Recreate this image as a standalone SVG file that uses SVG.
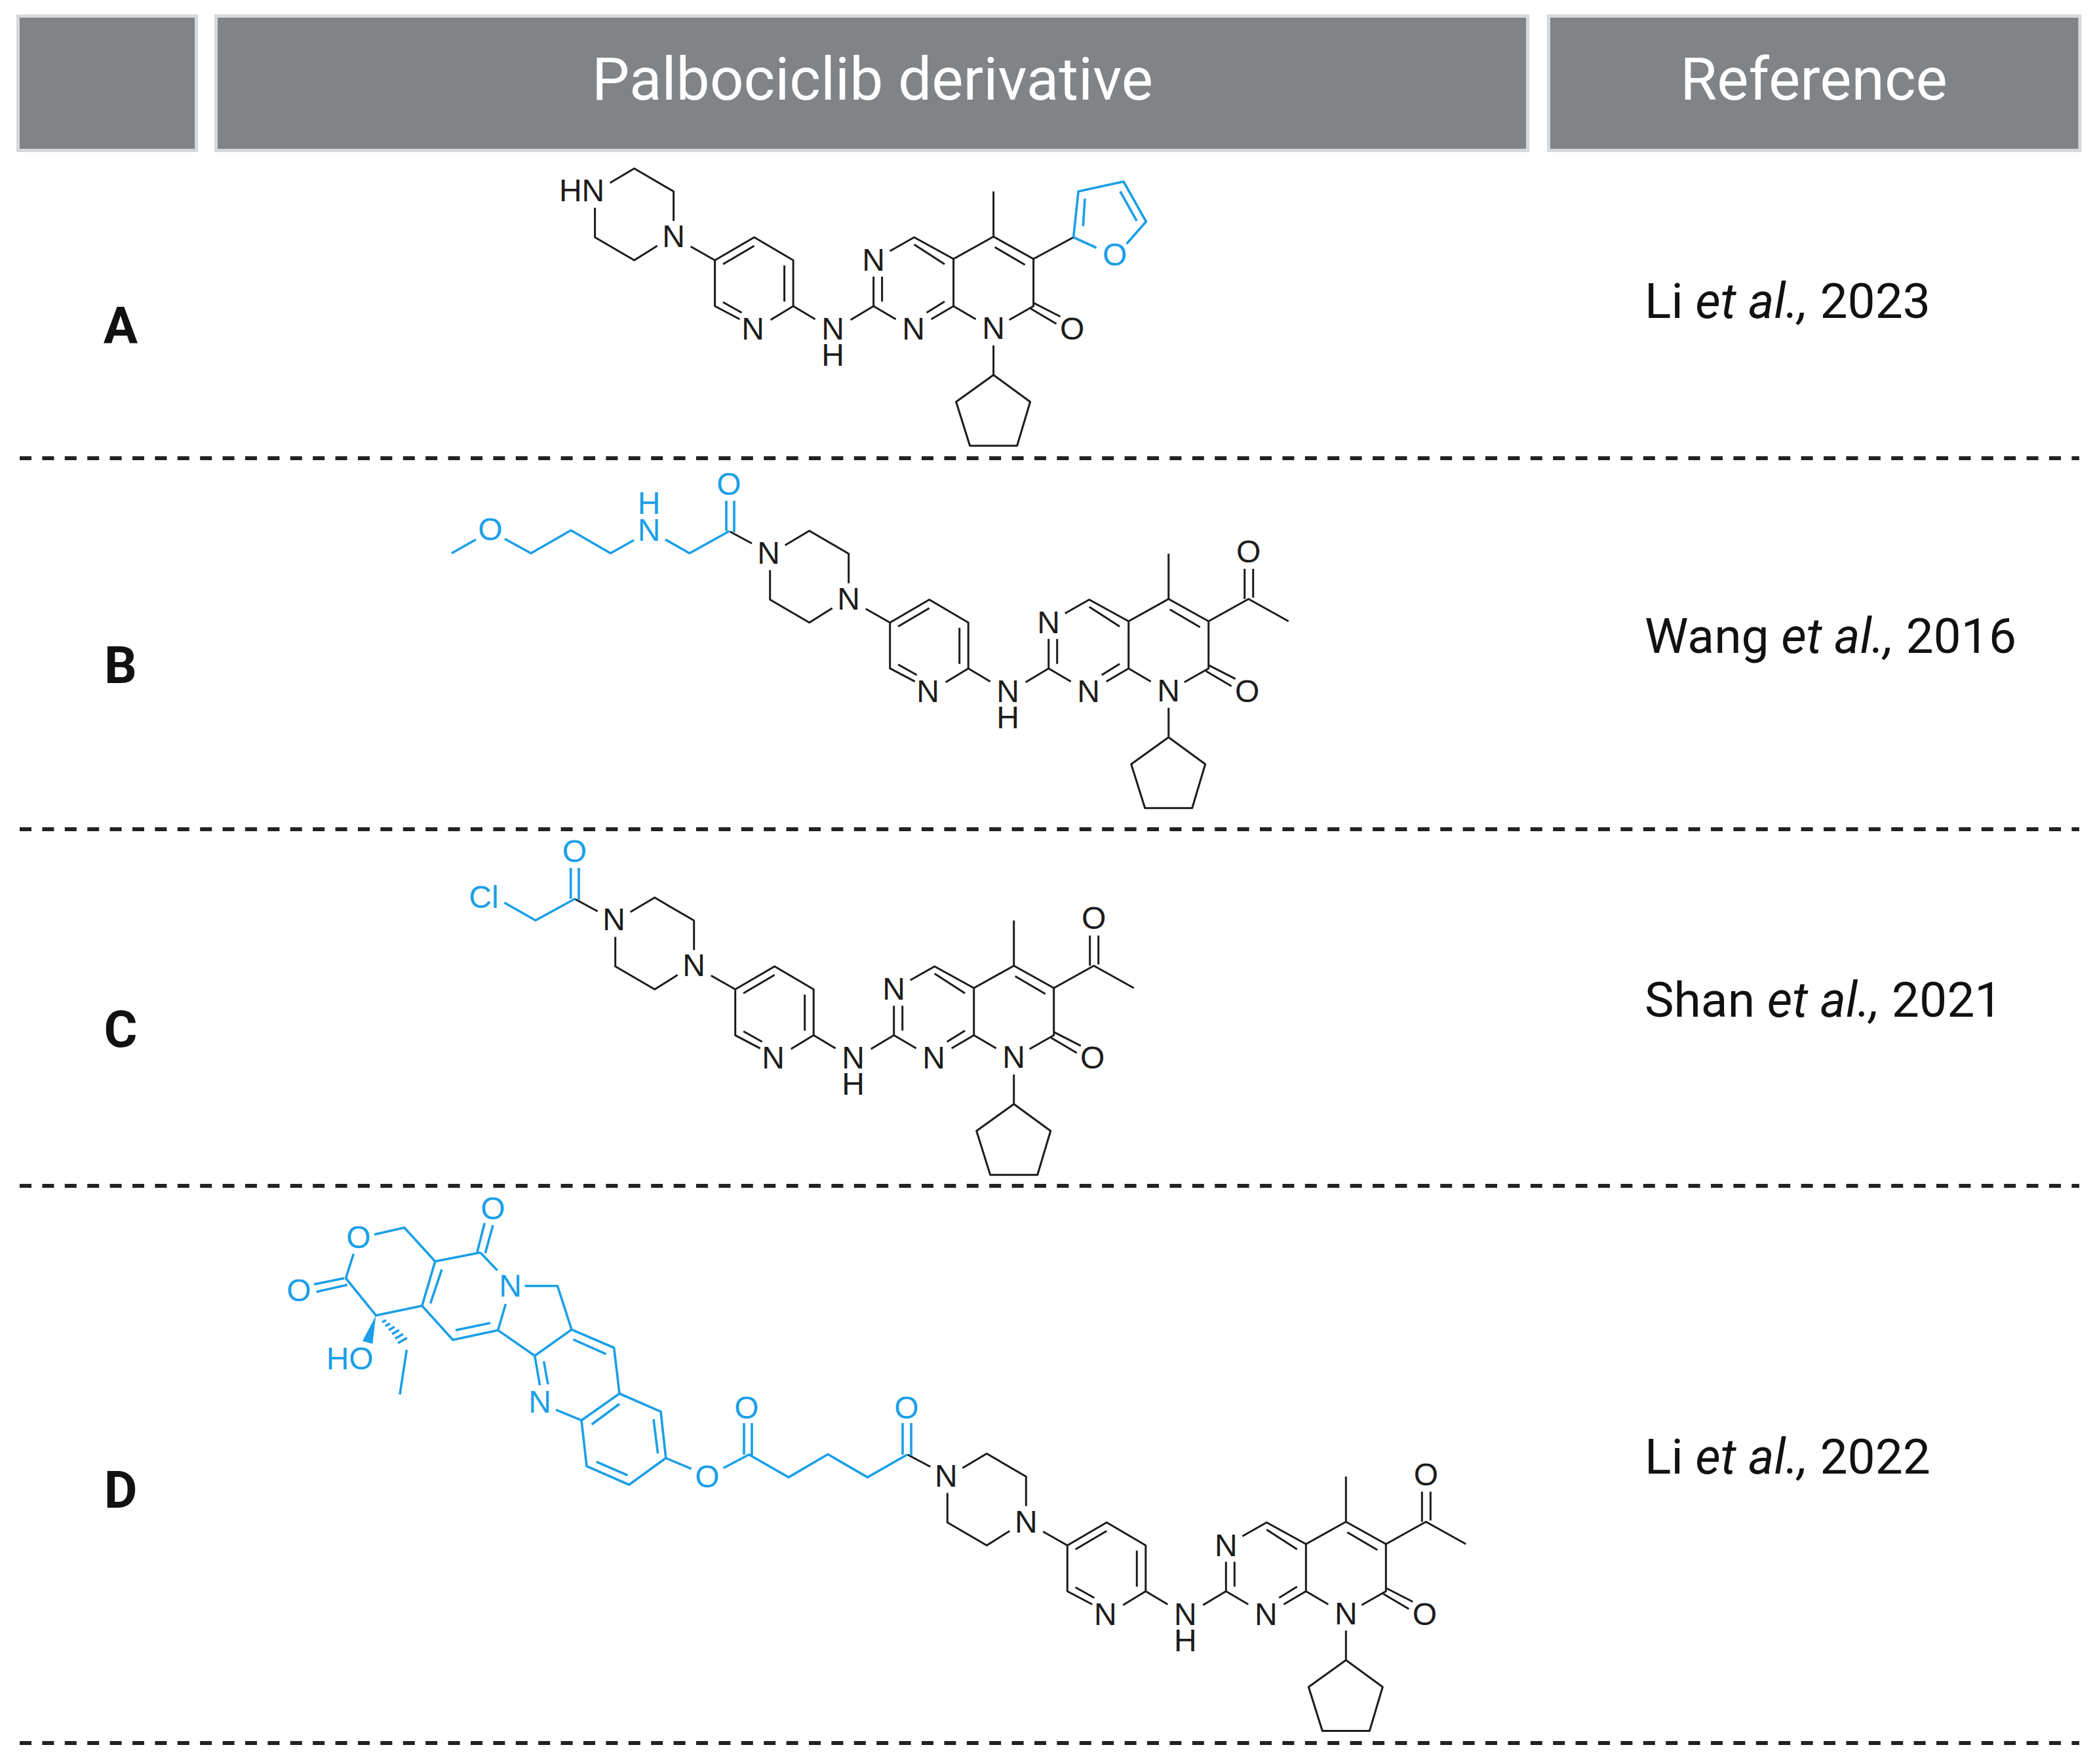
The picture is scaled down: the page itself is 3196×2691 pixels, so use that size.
<svg xmlns="http://www.w3.org/2000/svg" width="3196" height="2691" viewBox="0 0 3196 2691">
<style>
text{font-family:"Liberation Sans",Arial,sans-serif}
.b{fill:none;stroke:#1c1c1c;stroke-width:3;stroke-linejoin:round;stroke-linecap:butt}
.c{fill:none;stroke:#1a9fe8;stroke-width:3.6;stroke-linejoin:round;stroke-linecap:butt}
.a{font-size:48px;fill:#1c1c1c;text-anchor:middle}
.d{font-size:48px;fill:#1a9fe8;text-anchor:middle}
.hb{fill:#808487;stroke:#d5d9dc;stroke-width:5}
.ht{font-family:Roboto,sans-serif;font-size:91px;fill:#fff;text-anchor:middle}
.l{font-family:Roboto,sans-serif;font-size:78px;font-weight:700;fill:#111;text-anchor:middle}
.r{font-family:Roboto,sans-serif;font-size:75px;fill:#111}
.i{font-style:italic}
.s{fill:none;stroke:#222;stroke-width:6;stroke-dasharray:18 16.4}
</style>
<rect width="3196" height="2691" fill="#fff"/>
<g id="header">
<rect class="hb" x="27.500" y="24.500" width="272" height="205"/>
<rect class="hb" x="329.500" y="24.500" width="2001" height="205"/>
<rect class="hb" x="2362.500" y="24.500" width="810.500" height="205"/>
<text class="ht" x="1331" y="152">Palbociclib derivative</text>
<text class="ht" x="2767" y="152">Reference</text>
</g>
<g id="separators">
<path class="s" d="M30 699H3172M30 1265H3172M30 1809H3172M30 2659H3172"/>
</g>
<g id="row-labels">
<text class="l" x="184" y="524">A</text>
<text class="l" x="184" y="1042">B</text>
<text class="l" x="184" y="1597">C</text>
<text class="l" x="184" y="2300">D</text>
</g>
<g id="references">
<text class="r" x="2509" y="485">Li <tspan class="i">et al.,</tspan> 2023</text>
<text class="r" x="2509" y="996">Wang <tspan class="i">et al.,</tspan> 2016</text>
<text class="r" x="2509" y="1551">Shan <tspan class="i">et al.,</tspan> 2021</text>
<text class="r" x="2509" y="2248">Li <tspan class="i">et al.,</tspan> 2022</text>
</g>

<g id="molecule-A" transform="translate(1515.600 500)">
<path class="b" d="M-61 -33V-105L0 -139L61 -105V-33L24 -12M-61 -33L-27 -13M-61 -33L-95 -13M-74.600 -40L-102 -23M-183 -78V-33L-218 -12M-183 -33L-149 -13M-170 -78V-40M-158 -117L-121 -138L-61 -105M-121 -127L-74.600 -97M2 -123L48 -96M0 -139V-208M61 -38L102 -17M57 -29L96 -6M0 27V72L56 113L36 180H-36L-57 113L0 72"/>
<path class="b" d="M-272 -13L-305.500 -33V-103L-365 -138L-425 -103V-33L-387 -13M-319 -95V-40M-412.600 -97L-365 -125M-412.600 -39L-384 -23M-340 -12L-305.500 -33M-462 -124L-425 -103M-488 -163V-208L-548 -243L-585 -221M-608 -183V-138L-548 -103L-513 -125M61 -105L122 -138"/>
<path class="c" d="M122 -138L129.500 -208L198.400 -223L232.800 -162L203 -128M122 -138L157 -122M139.400 -197L136.700 -155M193.300 -208L218.500 -163"/>
<text class="a" x="-183" y="-87">N</text><text class="a" x="-122" y="18">N</text><text class="a" x="0" y="17">N</text><text class="a"><tspan x="-245" y="18">N</tspan><tspan x="-245" y="58">H</tspan></text><text class="a" x="-367" y="18">N</text><text class="a" x="-488" y="-123">N</text><text class="a" x="120" y="18">O</text><text class="a" x="-628" y="-193">HN</text>
<text class="d" x="185" y="-95">O</text>
</g>

<g id="molecule-B" transform="translate(1782.700 1052.700)">
<path class="b" d="M-61 -33V-105L0 -139L61 -105V-33L24 -12M-61 -33L-27 -13M-61 -33L-95 -13M-74.600 -40L-102 -23M-183 -78V-33L-218 -12M-183 -33L-149 -13M-170 -78V-40M-158 -117L-121 -138L-61 -105M-121 -127L-74.600 -97M2 -123L48 -96M0 -139V-208M61 -38L102 -17M57 -29L96 -6M0 27V72L56 113L36 180H-36L-57 113L0 72"/>
<path class="b" d="M-272 -13L-305.500 -33V-103L-365 -138L-425 -103V-33L-387 -13M-319 -95V-40M-412.600 -97L-365 -125M-412.600 -39L-384 -23M-340 -12L-305.500 -33M-462 -124L-425 -103M-488 -163V-208L-548 -243L-585 -221M-608 -183V-138L-548 -103L-513 -125M61 -105L122 -139L183 -105M116 -185V-139M129 -185V-141M-669 -241.700L-635.700 -223.700"/>
<text class="a" x="-183" y="-87">N</text><text class="a" x="-122" y="18">N</text><text class="a" x="0" y="17">N</text><text class="a"><tspan x="-245" y="18">N</tspan><tspan x="-245" y="58">H</tspan></text><text class="a" x="-367" y="18">N</text><text class="a" x="-488" y="-123">N</text><text class="a" x="-610" y="-193">N</text><text class="a" x="120" y="18">O</text><text class="a" x="122" y="-195">O</text>
</g>
<g id="substituent-B">
<path class="c" d="M1113 810L1052 844L1015 823M967 824L931.400 844L871 809L810 844L770 822M726 823L689 844M1108 764V810M1120 764V812"/>
<text class="d"><tspan x="1112" y="755">O</tspan></text><text class="d"><tspan x="990" y="784">H</tspan><tspan x="990" y="825">N</tspan></text><text class="d" x="748" y="824">O</text>
</g>

<g id="molecule-C" transform="translate(1546.700 1612.300)">
<path class="b" d="M-61 -33V-105L0 -139L61 -105V-33L24 -12M-61 -33L-27 -13M-61 -33L-95 -13M-74.600 -40L-102 -23M-183 -78V-33L-218 -12M-183 -33L-149 -13M-170 -78V-40M-158 -117L-121 -138L-61 -105M-121 -127L-74.600 -97M2 -123L48 -96M0 -139V-208M61 -38L102 -17M57 -29L96 -6M0 27V72L56 113L36 180H-36L-57 113L0 72"/>
<path class="b" d="M-272 -13L-305.500 -33V-103L-365 -138L-425 -103V-33L-387 -13M-319 -95V-40M-412.600 -97L-365 -125M-412.600 -39L-384 -23M-340 -12L-305.500 -33M-462 -124L-425 -103M-488 -163V-208L-548 -243L-585 -221M-608 -183V-138L-548 -103L-513 -125M61 -105L122 -139L183 -105M116 -185V-139M129 -185V-141M-670 -241L-635 -222"/>
<text class="a" x="-183" y="-87">N</text><text class="a" x="-122" y="18">N</text><text class="a" x="0" y="17">N</text><text class="a"><tspan x="-245" y="18">N</tspan><tspan x="-245" y="58">H</tspan></text><text class="a" x="-367" y="18">N</text><text class="a" x="-488" y="-123">N</text><text class="a" x="-610" y="-193">N</text><text class="a" x="120" y="18">O</text><text class="a" x="122" y="-195">O</text>
</g>
<g id="substituent-C">
<path class="c" d="M877.400 1371L817 1404L769.400 1377M870.700 1324V1371M883 1324V1373"/>
<text class="d" x="876.500" y="1315">O</text><text class="d" x="738" y="1385">Cl</text>
</g>

<g id="molecule-D" transform="translate(2053.300 2460.500)">
<path class="b" d="M-61 -33V-105L0 -139L61 -105V-33L24 -12M-61 -33L-27 -13M-61 -33L-95 -13M-74.600 -40L-102 -23M-183 -78V-33L-218 -12M-183 -33L-149 -13M-170 -78V-40M-158 -117L-121 -138L-61 -105M-121 -127L-74.600 -97M2 -123L48 -96M0 -139V-208M61 -38L102 -17M57 -29L96 -6M0 27V72L56 113L36 180H-36L-57 113L0 72"/>
<path class="b" d="M-272 -13L-305.500 -33V-103L-365 -138L-425 -103V-33L-387 -13M-319 -95V-40M-412.600 -97L-365 -125M-412.600 -39L-384 -23M-340 -12L-305.500 -33M-462 -124L-425 -103M-488 -163V-208L-548 -243L-585 -221M-608 -183V-138L-548 -103L-513 -125M61 -105L122 -139L183 -105M116 -185V-139M129 -185V-141M-669 -241.500L-634 -223"/>
<text class="a" x="-183" y="-87">N</text><text class="a" x="-122" y="18">N</text><text class="a" x="0" y="17">N</text><text class="a"><tspan x="-245" y="18">N</tspan><tspan x="-245" y="58">H</tspan></text><text class="a" x="-367" y="18">N</text><text class="a" x="-488" y="-123">N</text><text class="a" x="-610" y="-193">N</text><text class="a" x="120" y="18">O</text><text class="a" x="122" y="-195">O</text>
</g>
<g id="substituent-D">
<path class="c" d="M1384 2219L1323.400 2253.600L1263 2218.500L1203 2253.600L1142.600 2219L1103.600 2239.500M1377 2171V2219M1390 2171V2221M1135 2171V2219M1147 2171V2221M1054.600 2240.700L1015.800 2224.300"/>
<path class="c" d="M739.300 1865.700L728 1910M752 1869L740.300 1911.700M732.700 1910.700L758.700 1938M663.800 1924.300L732.700 1910.700M663.800 1924.300L616.800 1872.700L571 1883.300M539.300 1912.700L527.600 1950L573.500 2006.700L643.900 1992L663.800 1924.300M479 1959.300L525 1950M482.700 1970.700L530 1960M656.600 1988.300L674 1936.700M643.900 1992L690.800 2044L759.700 2029.300L771.400 1989.300M748 2018.300L695 2029.300M759.700 2029.300L815.800 2068.300L872 2028.300L850.500 1961.700H800.500M872 2028.300L936.700 2056L945 2126M874.500 2043.300L924.500 2065.700M815.800 2068.300L823.500 2113.300M829.600 2076.700L836 2111.700M848 2150.700L887 2166.700L945 2126L1008 2153.300L1015.800 2224.300L959.700 2265L895 2236.700L887 2166.700M902.600 2173L945 2141.700M997 2165L1003.600 2217.300M957.600 2250.700L910 2230M620.400 2059.300L610 2127.300"/>
<path class="c" d="M583 2017L589 2014M588 2023L595 2019M593 2029L602 2024M598 2035L609 2029M603 2042L615 2035M607 2049L621 2041"/>
<polygon points="573.500,2006.700 553,2045.700 568.400,2050" fill="#1a9fe8"/>
<text class="d" x="752" y="1860">O</text><text class="d" x="778.600" y="1978">N</text><text class="d" x="547" y="1904">O</text><text class="d" x="456" y="1985">O</text><text class="d" x="533.700" y="2089">HO</text><text class="d" x="823.500" y="2155">N</text><text class="d" x="1079" y="2269">O</text><text class="d" x="1139" y="2164">O</text><text class="d" x="1383" y="2164">O</text>
</g>
</svg>
